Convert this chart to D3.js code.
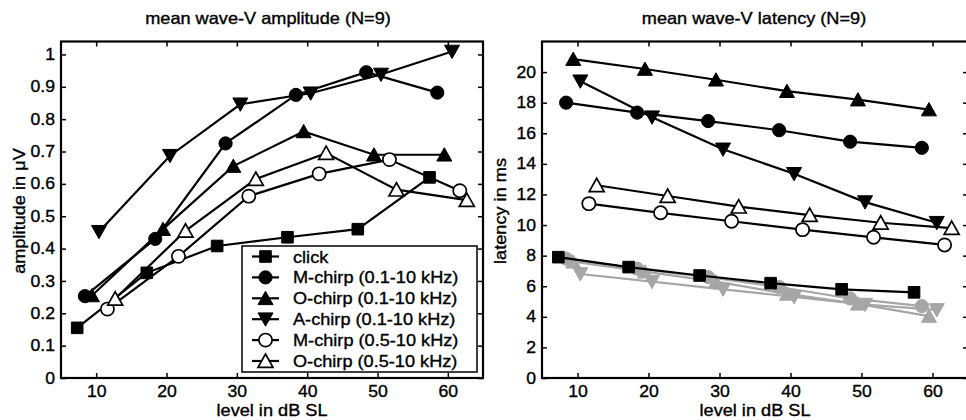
<!DOCTYPE html>
<html>
<head>
<meta charset="utf-8">
<script src="https://cdn.jsdelivr.net/npm/d3@7"></script>
<style>
  body { margin: 0; background: #fff; }
  svg { display: block; }
  text { font-family: "Liberation Sans", Arial, sans-serif; fill: #000; stroke: #000; stroke-width: 0.35px; }
</style>
</head>
<body>
<div id="chart"></div>
<script>
"use strict";

//********************************* DATA *********************************
// stimulus levels (dB SL) as plotted, each series is shifted a bit to the right
var xClick = [7.3, 17.2, 27.2, 37.2, 47.2, 57.4];
var xM01   = [8.4, 18.4, 28.4, 38.4, 48.4, 58.5];
var xO01   = [9.4, 19.5, 29.5, 39.5, 49.5, 59.5];
var xA01   = [10.4, 20.5, 30.5, 40.5, 50.5, 60.6];
var xM05   = [11.6, 21.7, 31.7, 41.7, 51.7, 61.7];
var xO05   = [12.7, 22.7, 32.7, 42.7, 52.7, 62.7];

// mean wave-V amplitude in uV
var ampClick = [0.155, 0.325, 0.408, 0.435, 0.46, 0.62];
var ampM01   = [0.253, 0.43, 0.725, 0.875, 0.945, 0.882];
var ampO01   = [0.255, 0.46, 0.655, 0.762, 0.69, 0.69];
var ampA01   = [0.452, 0.687, 0.846, 0.88, 0.938, 1.009];
var ampM05   = [0.213, 0.376, 0.562, 0.631, 0.675, 0.579];
var ampO05   = [0.245, 0.455, 0.615, 0.695, 0.582, 0.55];

// mean wave-V latency in ms
var latClick = [7.9, 7.25, 6.7, 6.2, 5.8, 5.6];
var latM01   = [18.0, 17.35, 16.8, 16.2, 15.45, 15.05];
var latO01   = [20.85, 20.2, 19.5, 18.75, 18.2, 17.55];
var latA01   = [19.4, 17.05, 14.95, 13.35, 11.5, 10.15];
var latM05   = [11.4, 10.8, 10.25, 9.7, 9.2, 8.7];
var latO05   = [12.6, 11.9, 11.2, 10.65, 10.15, 9.8];
// grey curves (0.1-10 kHz chirps, second set)
var latM01Grey = [7.8, 7.15, 6.6, 5.95, 5.2, 4.7];
var latO01Grey = [7.6, 6.95, 6.3, 5.5, 4.85, 4.05];
var latA01Grey = [6.8, 6.3, 5.8, 5.3, 4.8, 4.45];

var legendNames = ["click", "M-chirp (0.1-10 kHz)", "O-chirp (0.1-10 kHz)",
                   "A-chirp (0.1-10 kHz)", "M-chirp (0.5-10 kHz)", "O-chirp (0.5-10 kHz)"];

var xTicks = [10, 20, 30, 40, 50, 60];
var ampTicks = [0, 0.1, 0.2, 0.3, 0.4, 0.5, 0.6, 0.7, 0.8, 0.9, 1];
var latTicks = [0, 2, 4, 6, 8, 10, 12, 14, 16, 18, 20];

//********************************* LAYOUT *********************************
var W = 966, H = 420;
var STRETCH = 1.1;       // the figure text is a little wider than the font
var GREY = "#a6a6a6";

var svg = d3.select("#chart").append("svg").attr("width", W).attr("height", H);

// marker outlines, centred on the data point
function markerPath(shape){
	if(shape == "square") return "M-5.8,-5.8h11.6v11.6h-11.6z";
	if(shape == "up") return "M0,-7L7.5,6.3L-7.5,6.3Z";
	if(shape == "down") return "M0,7L7.5,-6.3L-7.5,-6.3Z";
	var r = 6.6;
	return "M" + (-r) + ",0a" + r + "," + r + " 0 1,0 " + (2*r) + ",0a" + r + "," + r + " 0 1,0 " + (-2*r) + ",0Z";
}

function stretch(sel){
	sel.each(function(){
		var len = this.getComputedTextLength();
		if(len > 0){
			d3.select(this).attr("textLength", len * STRETCH).attr("lengthAdjust", "spacingAndGlyphs");
		}
	});
}

function drawSeries(g, x, y, s){
	var pts = s.x.map(function(v, i){ return [v, s.y[i]]; });
	g.append("path")
		.attr("d", d3.line().x(function(d){ return x(d[0]); }).y(function(d){ return y(d[1]); })(pts))
		.attr("fill", "none")
		.attr("stroke", s.color)
		.attr("stroke-width", 2.2);
	g.selectAll(null)
		.data(pts)
		.enter()
			.append("path")
			.attr("d", markerPath(s.shape))
			.attr("transform", function(d){ return "translate(" + x(d[0]) + "," + y(d[1]) + ")"; })
			.attr("fill", s.open ? "#fff" : s.color)
			.attr("stroke", s.color)
			.attr("stroke-width", s.open ? 1.7 : 1);
}

//Builds one panel: frame, ticks, labels and all series
function panel(opt){
	var x = d3.scaleLinear().domain([5, 65]).range([opt.x0, opt.x1]);
	var y = d3.scaleLinear().domain([0, opt.ymax]).range([378, 41.5]);
	var g = svg.append("g");

	opt.series.forEach(function(s){ drawSeries(g, x, y, s); });

	// axes with inward ticks on all four sides
	g.append("g").attr("transform", "translate(0,378)")
		.call(d3.axisBottom(x).tickValues(xTicks).tickSize(-5).tickSizeOuter(0).tickPadding(8).tickFormat(d3.format("d")));
	g.append("g").attr("transform", "translate(0,41.5)")
		.call(d3.axisTop(x).tickValues(xTicks).tickSize(-5).tickSizeOuter(0).tickFormat(""));
	g.append("g").attr("transform", "translate(" + opt.x0 + ",0)")
		.call(d3.axisLeft(y).tickValues(opt.yTicks).tickSize(-5).tickSizeOuter(0).tickPadding(6).tickFormat(opt.fmt));
	g.append("g").attr("transform", "translate(" + opt.x1 + ",0)")
		.call(d3.axisRight(y).tickValues(opt.yTicks).tickSize(-5).tickSizeOuter(0).tickFormat(""));
	g.selectAll(".domain").remove();
	g.selectAll(".tick line").attr("stroke", "#000").attr("stroke-width", 1.5);
	g.selectAll(".tick text").attr("font-size", 16).attr("font-family", null).attr("fill", "#000");

	g.append("rect")
		.attr("x", opt.x0).attr("y", 41.5)
		.attr("width", opt.x1 - opt.x0).attr("height", 378 - 41.5)
		.attr("fill", "none").attr("stroke", "#000").attr("stroke-width", 2.2);

	g.append("text")
		.attr("x", opt.titleX).attr("y", 24)
		.attr("text-anchor", "middle").attr("font-size", 16.5)
		.text(opt.title);
	g.append("text")
		.attr("x", (opt.x0 + opt.x1) / 2).attr("y", 416)
		.attr("text-anchor", "middle").attr("font-size", 16.5)
		.text("level in dB SL");
	g.append("text")
		.attr("transform", "translate(" + (opt.x0 - 36) + ",211) rotate(-90)")
		.attr("text-anchor", "middle").attr("font-size", 16.5)
		.text(opt.ylabel);

	return g;
}

//********************************* LEFT: AMPLITUDE *********************************
var ampSeries = [
	{ x: xClick, y: ampClick, shape: "square", color: "#000" },
	{ x: xM01,   y: ampM01,   shape: "circle", color: "#000" },
	{ x: xO01,   y: ampO01,   shape: "up",     color: "#000" },
	{ x: xA01,   y: ampA01,   shape: "down",   color: "#000" },
	{ x: xM05,   y: ampM05,   shape: "circle", color: "#000", open: true },
	{ x: xO05,   y: ampO05,   shape: "up",     color: "#000", open: true }
];
var left = panel({
	x0: 61, x1: 483, ymax: 1.04, yTicks: ampTicks,
	fmt: function(d){ return d3.format(".1~f")(d); },
	series: ampSeries, title: "mean wave-V amplitude (N=9)", titleX: 268,
	ylabel: "amplitude in \u03bcV"
});

// legend box on top of the curves
var leg = left.append("g");
leg.append("rect")
	.attr("x", 242).attr("y", 246).attr("width", 235).attr("height", 126)
	.attr("fill", "#fff").attr("stroke", "#000").attr("stroke-width", 1.5);
ampSeries.forEach(function(s, i){
	var yy = 256.5 + i * 20.9;
	leg.append("line").attr("x1", 252).attr("x2", 279).attr("y1", yy).attr("y2", yy)
		.attr("stroke", "#000").attr("stroke-width", 2.2);
	leg.append("path").attr("d", markerPath(s.shape))
		.attr("transform", "translate(265.5," + yy + ")")
		.attr("fill", s.open ? "#fff" : "#000").attr("stroke", "#000").attr("stroke-width", s.open ? 1.7 : 1);
	leg.append("text").attr("x", 293).attr("y", yy + 6).attr("font-size", 16.5).text(legendNames[i]);
});

//********************************* RIGHT: LATENCY *********************************
panel({
	x0: 542, x1: 968, ymax: 22, yTicks: latTicks,
	fmt: d3.format("d"),
	series: [
		{ x: xM01,   y: latM01Grey, shape: "circle", color: GREY },
		{ x: xO01,   y: latO01Grey, shape: "up",     color: GREY },
		{ x: xA01,   y: latA01Grey, shape: "down",   color: GREY },
		{ x: xClick, y: latClick, shape: "square", color: "#000" },
		{ x: xM01,   y: latM01,   shape: "circle", color: "#000" },
		{ x: xO01,   y: latO01,   shape: "up",     color: "#000" },
		{ x: xA01,   y: latA01,   shape: "down",   color: "#000" },
		{ x: xM05,   y: latM05,   shape: "circle", color: "#000", open: true },
		{ x: xO05,   y: latO05,   shape: "up",     color: "#000", open: true }
	],
	title: "mean wave-V latency (N=9)", titleX: 754,
	ylabel: "latency in ms"
});

stretch(svg.selectAll("text"));
</script>
</body>
</html>
